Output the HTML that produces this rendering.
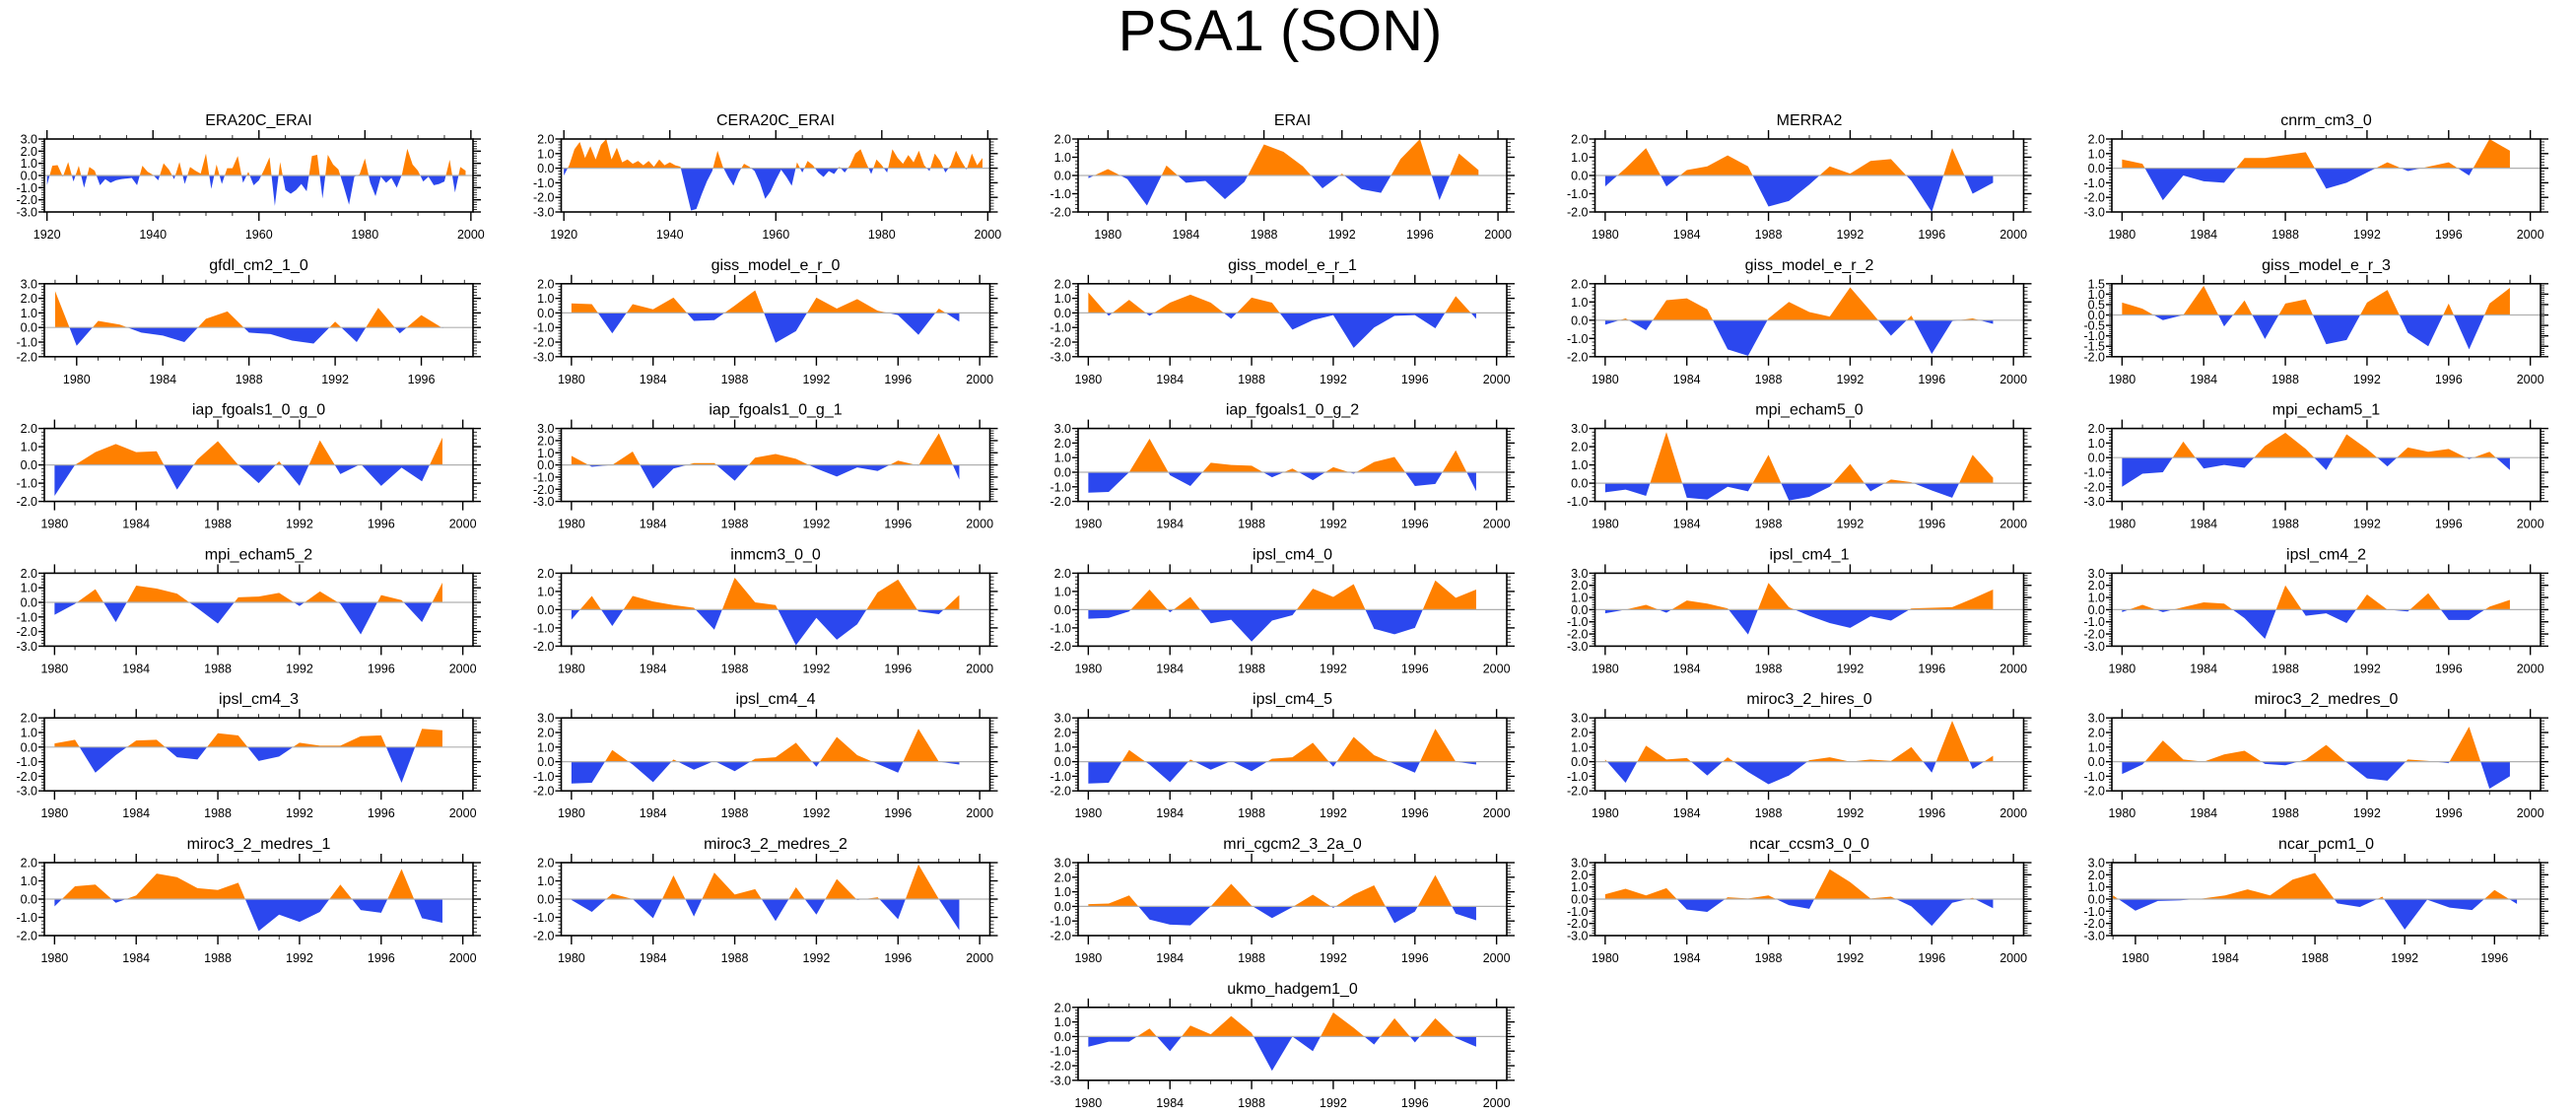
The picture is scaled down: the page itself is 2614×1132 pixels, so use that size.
<!DOCTYPE html>
<html><head><meta charset="utf-8"><title>PSA1 (SON)</title>
<style>
html,body{margin:0;padding:0;background:#fff;}
svg{display:block;font-family:"Liberation Sans",sans-serif;}
</style></head>
<body>
<svg id="fig" width="2614" height="1132" viewBox="0 0 2614 1132" xmlns="http://www.w3.org/2000/svg">
<rect x="0" y="0" width="2614" height="1132" fill="#fff"/>
<text x="1299" y="51" font-size="58" text-anchor="middle" fill="#000">PSA1 (SON)</text>
</svg>
<script>
const panelTitles = ["ERA20C_ERAI","CERA20C_ERAI","ERAI","MERRA2","cnrm_cm3_0",
"gfdl_cm2_1_0","giss_model_e_r_0","giss_model_e_r_1","giss_model_e_r_2","giss_model_e_r_3",
"iap_fgoals1_0_g_0","iap_fgoals1_0_g_1","iap_fgoals1_0_g_2","mpi_echam5_0","mpi_echam5_1",
"mpi_echam5_2","inmcm3_0_0","ipsl_cm4_0","ipsl_cm4_1","ipsl_cm4_2",
"ipsl_cm4_3","ipsl_cm4_4","ipsl_cm4_5","miroc3_2_hires_0","miroc3_2_medres_0",
"miroc3_2_medres_1","miroc3_2_medres_2","mri_cgcm2_3_2a_0","ncar_ccsm3_0_0","ncar_pcm1_0",
"ukmo_hadgem1_0"];
const startYears = [1920,1920,1979,1980,1980, 1979,1980,1980,1980,1980, 1980,1980,1980,1980,1980,
1980,1980,1980,1980,1980, 1980,1980,1980,1980,1980, 1980,1980,1980,1980,1979, 1980];
const yMins = [-3,-3,-2,-2,-3, -2,-3,-3,-2,-2, -2,-3,-2,-1,-3, -3,-2,-2,-3,-3, -3,-2,-2,-2,-2, -2,-2,-2,-3,-3, -3];
const yMaxs = [3,2,2,2,2, 3,2,2,2,1.5, 2,3,3,3,2, 2,2,2,3,3, 2,3,3,3,3, 2,2,3,3,3, 2];
const yMajorSteps = [1,1,1,1,1, 1,1,1,1,0.5, 1,1,1,1,1, 1,1,1,1,1, 1,1,1,1,1, 1,1,1,1,1, 1];
const xMins = [1919.5,1919.5,1978.47,1979.5,1979.5, 1978.5,1979.5,1979.5,1979.5,1979.5, 1979.5,1979.5,1979.5,1979.5,1979.5,
1979.5,1979.5,1979.5,1979.5,1979.5, 1979.5,1979.5,1979.5,1979.5,1979.5, 1979.5,1979.5,1979.5,1979.5,1978.95, 1979.5];
const xMaxs = [2000.4,2000.4,2000.45,2000.5,2000.5, 1998.4,2000.5,2000.5,2000.5,2000.5, 2000.5,2000.5,2000.5,2000.5,2000.5,
2000.5,2000.5,2000.5,2000.5,2000.5, 2000.5,2000.5,2000.5,2000.5,2000.5, 2000.5,2000.5,2000.5,2000.5,1998.05, 2000.5];
const xTickEnds = [2000,2000,2000,2000,2000, 1996,2000,2000,2000,2000, 2000,2000,2000,2000,2000,
2000,2000,2000,2000,2000, 2000,2000,2000,2000,2000, 2000,2000,2000,2000,1996, 2000];

const v_era20c = [-0.8,0.8,0.85,-0.1,1.1,-0.5,0.8,-1.0,0.7,0.4,-0.8,-0.3,-0.6,-0.4,-0.3,-0.25,-0.2,-0.8,0.8,0.3,
0.05,-0.4,1.0,0.5,-0.3,1.1,-0.7,0.7,0.4,0.15,1.8,-1.1,0.9,-0.7,0.6,0.6,1.6,-0.6,0.3,-0.8,
-0.4,0.5,1.5,-2.5,1.1,-1.2,-1.5,-1.2,-0.7,-1.3,1.6,1.7,-1.9,1.7,0.9,0.5,-0.9,-2.4,-0.1,0.1,
1.4,-0.6,-1.7,-0.1,-0.6,-0.2,-1.0,0.1,2.2,0.9,0.4,-0.5,-0.1,-0.8,-0.7,-0.5,1.3,-1.4,0.7,0.4];
const v_cera20c = [-0.5,0.2,1.3,1.8,0.7,1.5,0.6,1.6,2.0,0.6,1.4,0.4,0.6,0.3,0.5,0.2,0.5,0.1,0.6,0.2,
0.4,0.2,0.1,-1.4,-2.9,-2.8,-1.8,-0.9,-0.2,1.2,0.1,-0.6,-1.2,-0.3,0.3,0.1,-0.2,-1.0,-2.1,-1.6,
-0.8,-0.1,-0.6,-1.2,0.4,-0.3,0.5,0.2,-0.3,-0.6,-0.2,-0.4,0.1,-0.3,0.2,1.0,1.3,0.4,-0.4,0.6,
0.2,-0.3,1.3,0.7,0.3,0.9,0.4,1.2,0.2,-0.2,1.0,0.5,-0.3,0.2,1.2,0.5,-0.1,1.0,0.2,0.7];
const v_erai = [-0.15,0.35,-0.2,-1.65,0.55,-0.4,-0.3,-1.3,-0.35,1.7,1.3,0.5,-0.7,0.1,-0.75,-0.95,0.9,2.0,-1.35,1.2,0.3];
const v_merra2 = [-0.6,0.4,1.5,-0.6,0.3,0.5,1.1,0.5,-1.7,-1.4,-0.5,0.5,0.1,0.8,0.9,-0.3,-2.0,1.5,-1.0,-0.4];
const v_cnrm = [0.6,0.3,-2.2,-0.5,-0.9,-1.0,0.7,0.7,0.9,1.1,-1.4,-1.0,-0.3,0.4,-0.2,0.1,0.4,-0.5,2.0,1.2];
const v_gfdl = [2.5,-1.25,0.45,0.2,-0.35,-0.55,-1.0,0.6,1.1,-0.35,-0.45,-0.9,-1.1,0.4,-1.0,1.35,-0.4,0.85,-0.05];
const v_giss0 = [0.65,0.6,-1.4,0.6,0.25,1.05,-0.55,-0.5,0.5,1.55,-2.05,-1.25,1.05,0.3,0.95,0.15,-0.15,-1.5,0.3,-0.6];
const v_giss1 = [1.4,-0.2,0.9,-0.2,0.7,1.25,0.7,-0.4,1.05,0.7,-1.15,-0.5,-0.15,-2.4,-1.0,-0.2,-0.15,-1.05,1.15,-0.4];
const v_giss2 = [-0.25,0.1,-0.55,1.1,1.2,0.6,-1.6,-1.95,0.1,1.0,0.45,0.2,1.8,0.5,-0.85,0.25,-1.85,-0.05,0.1,-0.2];
const v_giss3 = [0.6,0.3,-0.25,0.0,1.4,-0.55,0.7,-1.15,0.55,0.75,-1.4,-1.2,0.6,1.2,-0.85,-1.5,0.55,-1.65,0.55,1.3];
const v_iap0 = [-1.7,0.0,0.7,1.15,0.7,0.75,-1.35,0.3,1.3,0.0,-1.0,0.2,-1.15,1.35,-0.5,0.05,-1.15,-0.15,-0.9,1.5];
const v_iap1 = [0.75,-0.15,0.0,1.1,-1.95,-0.3,0.15,0.15,-1.3,0.6,0.9,0.5,-0.3,-0.95,-0.2,-0.5,0.35,-0.05,2.6,-1.2];
const v_iap2 = [-1.4,-1.35,0.0,2.3,-0.2,-0.95,0.65,0.5,0.45,-0.35,0.25,-0.55,0.35,-0.1,0.7,1.05,-0.95,-0.8,1.5,-1.3];
const v_mpi0 = [-0.5,-0.35,-0.7,2.8,-0.8,-0.9,-0.2,-0.45,1.55,-0.95,-0.75,-0.2,1.05,-0.45,0.2,0.05,-0.4,-0.8,1.55,0.3];
const v_mpi1 = [-2.0,-1.1,-1.0,1.1,-0.75,-0.5,-0.7,0.8,1.7,0.6,-0.85,1.6,0.6,-0.6,0.7,0.4,0.6,-0.1,0.4,-0.85];
const v_mpi2 = [-0.85,-0.1,0.9,-1.35,1.15,0.95,0.6,-0.4,-1.45,0.35,0.4,0.65,-0.25,0.75,-0.1,-2.2,0.5,0.15,-1.35,1.35];
const v_inm = [-0.55,0.75,-0.9,0.75,0.45,0.25,0.1,-1.1,1.75,0.4,0.25,-1.95,-0.45,-1.65,-0.8,0.95,1.65,-0.1,-0.25,0.8];
const v_ipsl0 = [-0.5,-0.45,-0.1,1.1,-0.15,0.7,-0.75,-0.55,-1.75,-0.6,-0.3,1.15,0.7,1.4,-1.05,-1.35,-1.0,1.6,0.65,1.1];
const v_ipsl1 = [-0.3,0.0,0.4,-0.25,0.75,0.5,0.1,-2.05,2.2,0.2,-0.5,-1.1,-1.5,-0.55,-0.9,0.1,0.15,0.2,0.9,1.65];
const v_ipsl2 = [-0.2,0.4,-0.2,0.2,0.6,0.5,-0.7,-2.4,2.0,-0.5,-0.3,-1.1,1.25,0.0,-0.15,1.35,-0.85,-0.85,0.25,0.8];
const v_ipsl3 = [0.25,0.5,-1.75,-0.55,0.45,0.5,-0.7,-0.85,0.95,0.8,-0.95,-0.65,0.3,0.1,0.1,0.75,0.8,-2.45,1.25,1.15];
const v_ipsl4 = [-1.5,-1.45,0.8,-0.2,-1.4,0.15,-0.55,0.05,-0.65,0.2,0.3,1.3,-0.35,1.7,0.45,-0.15,-0.75,2.25,0.0,-0.2];
const v_ipsl5 = [-1.5,-1.45,0.8,-0.2,-1.4,0.15,-0.55,0.05,-0.65,0.2,0.3,1.3,-0.35,1.7,0.45,-0.15,-0.75,2.25,0.0,-0.2];
const v_mirhi = [0.15,-1.45,1.1,0.15,0.25,-0.95,0.3,-0.7,-1.55,-0.95,0.1,0.3,0.0,0.15,0.05,1.0,-0.75,2.8,-0.5,0.4];
const v_mirmed0 = [-0.85,-0.2,1.45,0.15,0.0,0.5,0.75,-0.15,-0.25,0.15,1.15,-0.05,-1.15,-1.3,0.15,0.05,-0.1,2.4,-1.85,-1.0];
const v_mirmed1 = [-0.4,0.7,0.8,-0.2,0.2,1.4,1.2,0.6,0.5,0.9,-1.75,-0.85,-1.25,-0.7,0.8,-0.6,-0.75,1.65,-1.05,-1.3];
const v_mirmed2 = [-0.05,-0.7,0.3,0.0,-1.05,1.3,-0.95,1.45,0.25,0.55,-1.2,0.65,-0.85,1.1,-0.05,0.1,-1.1,1.9,0.0,-1.7];
const v_mri = [0.15,0.2,0.75,-0.9,-1.25,-1.3,0.0,1.55,0.05,-0.8,-0.05,0.8,-0.1,0.8,1.45,-1.15,-0.35,2.15,-0.5,-0.95];
const v_ccsm = [0.4,0.85,0.3,0.9,-0.85,-1.05,0.15,0.05,0.3,-0.5,-0.8,2.45,1.4,0.05,0.2,-0.6,-2.2,-0.3,0.1,-0.75];
const v_pcm = [0.3,-0.95,-0.15,-0.1,0.05,0.3,0.8,0.3,1.6,2.15,-0.35,-0.65,0.2,-2.5,-0.05,-0.7,-0.9,0.75,-0.4];
const v_ukmo = [-0.7,-0.35,-0.35,0.55,-1.0,0.75,0.15,1.4,0.25,-2.35,0.0,-1.0,1.65,0.6,-0.55,1.25,-0.4,1.25,-0.1,-0.7];

const panelValues = [v_era20c,v_cera20c,v_erai,v_merra2,v_cnrm,v_gfdl,v_giss0,v_giss1,v_giss2,v_giss3,
v_iap0,v_iap1,v_iap2,v_mpi0,v_mpi1,v_mpi2,v_inm,v_ipsl0,v_ipsl1,v_ipsl2,
v_ipsl3,v_ipsl4,v_ipsl5,v_mirhi,v_mirmed0,v_mirmed1,v_mirmed2,v_mri,v_ccsm,v_pcm,v_ukmo];

const NS = "http://www.w3.org/2000/svg";
const svg = document.getElementById('fig');
const BOXW = 435, BOXH = 74;
function mk(tag, attrs, parent){
  const e = document.createElementNS(NS, tag);
  for (const k in attrs) e.setAttribute(k, attrs[k]);
  parent.appendChild(e); return e;
}
function slug(s){ return s.toLowerCase().replace(/_/g,'-'); }

panelTitles.forEach(function(title, i){
  let col, row;
  if (i < 30) { col = i % 5; row = Math.floor(i / 5); } else { col = 2; row = 6; }
  const L = 45 + 524.5 * col, T = 141 + 146.8 * row, R = L + BOXW, B = T + BOXH;
  const x0 = xMins[i], x1 = xMaxs[i], y0 = yMins[i], y1 = yMaxs[i];
  const sx = function(v){ return L + (v - x0) / (x1 - x0) * BOXW; };
  const sy = function(v){ return B - (v - y0) / (y1 - y0) * BOXH; };
  const g = mk('g', {}, svg);
  
  

  const t = mk('text', {x: (L + R) / 2, y: T - 14, 'font-size': 16, 'text-anchor': 'middle', fill: '#000'}, g);
  
  
  t.textContent = title;

  const vals = panelValues[i], sy0 = startYears[i];
  const pts = vals.map(function(v, k){ return [sy0 + k, v]; });
  let segs = [], cur = null, curSign = 0;
  for (let k = 0; k < pts.length; k++) {
    const p = pts[k], s = p[1] >= 0 ? 1 : -1;
    if (cur === null) { cur = [[p[0], 0], p]; curSign = s; }
    else if (s === curSign) { cur.push(p); }
    else {
      const q = pts[k - 1];
      const xc = q[0] + (0 - q[1]) / (p[1] - q[1]) * (p[0] - q[0]);
      cur.push([xc, 0]); segs.push([curSign, cur]);
      cur = [[xc, 0], p]; curSign = s;
    }
  }
  cur.push([pts[pts.length - 1][0], 0]); segs.push([curSign, cur]);
  segs.forEach(function(sg){
    const d = sg[1].map(function(p){ return sx(p[0]).toFixed(2) + ',' + sy(p[1]).toFixed(2); }).join(' ');
    const poly = mk('polygon', {points: d, fill: sg[0] > 0 ? '#ff8000' : '#2b47ee', stroke: 'none'}, g);
    
    
  });

  const zl = mk('line', {x1: L, x2: R, y1: sy(0), y2: sy(0), stroke: '#b0b0b0', 'stroke-width': 1.2}, g);
  
  

  const yst = yMajorSteps[i], ymin = yst / 5;
  const nMin = Math.round((y1 - y0) / ymin);
  for (let k = 0; k <= nMin; k++) {
    const v = y0 + k * ymin, yy = sy(v);
    const major = (k % 5 === 0);
    const len = major ? 6 : 3;
    mk('line', {x1: L - len, x2: L, y1: yy, y2: yy, stroke: '#000', 'stroke-width': major ? 1.4 : 0.8}, g);
    mk('line', {x1: R, x2: R + len + (major ? 2 : 1), y1: yy, y2: yy, stroke: '#000', 'stroke-width': major ? 1.4 : 0.8}, g);
    if (major) {
      const lab = mk('text', {x: L - 7, y: yy + 4.5, 'font-size': 12.5, 'text-anchor': 'end', fill: '#000'}, g);
      
      
      lab.textContent = v.toFixed(1);
    }
  }
  const isLong = xTickEnds[i] === 2000 && x0 < 1950;
  const maj = isLong ? 20 : 4, mnr = isLong ? 5 : 1;
  const xs = isLong ? 1920 : 1980;
  for (let yr = Math.ceil(x0); yr <= x1; yr++) {
    if ((yr - xs) % mnr !== 0) continue;
    const xx = sx(yr);
    const major = ((yr - xs) % maj === 0) && yr >= xs && yr <= xTickEnds[i];
    const len = major ? 9 : 4;
    mk('line', {x1: xx, x2: xx, y1: T - len, y2: T, stroke: '#000', 'stroke-width': major ? 1.4 : 0.8}, g);
    mk('line', {x1: xx, x2: xx, y1: B, y2: B + len, stroke: '#000', 'stroke-width': major ? 1.4 : 0.8}, g);
    if (major) {
      const lab = mk('text', {x: xx, y: B + 27, 'font-size': 12.5, 'text-anchor': 'middle', fill: '#000'}, g);
      
      
      lab.textContent = String(yr);
    }
  }
  const fr = mk('rect', {x: L, y: T, width: BOXW, height: BOXH, fill: 'none', stroke: '#000', 'stroke-width': 1.6}, g);
  
  
});
</script>
</body></html>
